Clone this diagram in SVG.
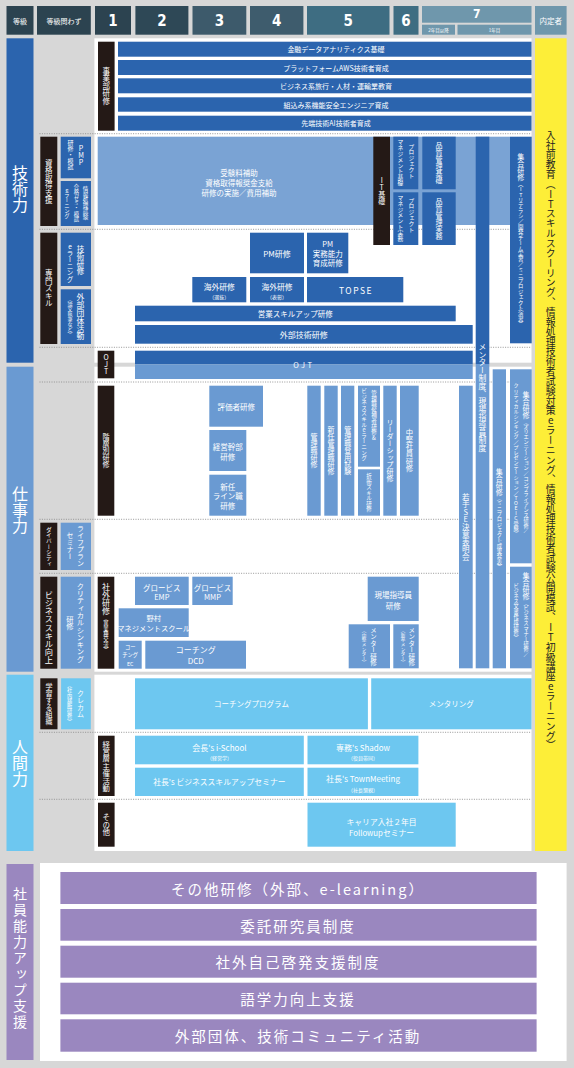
<svg xmlns="http://www.w3.org/2000/svg" width="574" height="1068" viewBox="0 0 574 1068">
<style>
text{font-family:"Noto Sans CJK JP","Noto Sans",sans-serif;fill:#fff;dominant-baseline:central;text-anchor:middle}
.v{writing-mode:vertical-rl;text-orientation:upright}
.s{text-anchor:start}
.k{fill:#222}
.db{fill:#2b64ae}
.lb{fill:#7aa3d4}
.wb{fill:#6a9ad2}
.hb{fill:#6dc7f0}
.bk{fill:#241916}
.pp{fill:#9a87bf}
.num{font-family:"DejaVu Sans Condensed","DejaVu Sans",sans-serif;font-weight:bold;font-stretch:condensed}
.dot{stroke:#8c8c8c;stroke-width:0.9;stroke-dasharray:1 1.4;fill:none}
.pt{font-size:14.5px;letter-spacing:2px}
</style>
<rect width="574" height="1068" fill="#d7d7d7"/>

<g id="header">
<rect x="6.5" y="6" width="27" height="28.7" fill="#2c4350"/>
<text x="20" y="20.5" font-size="7">等級</text>
<rect x="37" y="6" width="53.8" height="28.7" fill="#2c4350"/>
<text x="64" y="20.5" font-size="7">等級問わず</text>
<rect x="95" y="6" width="36" height="28.7" fill="#2c4350"/>
<text class="num" x="113" y="20.5" font-size="15">1</text>
<rect x="135.4" y="6" width="53" height="28.7" fill="#2e4856"/>
<text class="num" x="162" y="20.5" font-size="15">2</text>
<rect x="192.5" y="6" width="53.8" height="28.7" fill="#3d5a6b"/>
<text class="num" x="219.4" y="20.5" font-size="15">3</text>
<rect x="250" y="6" width="53.4" height="28.7" fill="#3e5c6d"/>
<text class="num" x="276.7" y="20.5" font-size="15">4</text>
<rect x="307" y="6" width="82.5" height="28.7" fill="#3e6d82"/>
<text class="num" x="348.2" y="20.5" font-size="15">5</text>
<rect x="393.5" y="6" width="25" height="28.7" fill="#3e6d82"/>
<text class="num" x="406" y="20.5" font-size="15">6</text>
<rect x="422" y="6" width="109.5" height="16.7" fill="#6f97ac"/>
<text class="num" x="476.7" y="14.3" font-size="12">7</text>
<rect x="422" y="24.7" width="33" height="10" fill="#6f97ac"/>
<text x="438.5" y="29.7" font-size="4.5">2年目以降</text>
<rect x="457.5" y="24.7" width="74" height="10" fill="#6f97ac"/>
<text x="494.5" y="29.7" font-size="4.5">1年目</text>
<rect x="535" y="6" width="31.6" height="28.7" fill="#6f97ac"/>
<text x="550.8" y="20.5" font-size="7.5">内定者</text>
</g>

<g id="panels">
<rect x="94.4" y="38.3" width="437.1" height="324.4" fill="#fff"/>
<rect x="94.4" y="366.7" width="437.1" height="305" fill="#fff"/>
<rect x="94.4" y="674.7" width="437.1" height="176.3" fill="#fff"/>
<rect x="40" y="863" width="526.6" height="198" fill="#fff"/>
</g>

<g id="separators">
<path class="dot" d="M39.5 133.7H531.5M39.5 229.3H531.5M39.5 347.3H531.5M39.5 382H531.5M39.5 519.3H531.5M39.5 573.3H531.5M39.5 732.3H531.5M39.5 799.3H531.5"/>
</g>

<g id="cat-gijutsu">
<rect class="db" x="6.5" y="38.3" width="27" height="324.4"/>
<text class="v" x="20" y="189" font-size="16">技術力</text>
</g>
<g id="cat-shigoto">
<rect class="wb" x="6.5" y="366.7" width="27" height="305"/>
<text class="v" x="20" y="510" font-size="16">仕事力</text>
</g>
<g id="cat-ningen">
<rect class="hb" x="6.5" y="674.7" width="27" height="176.3"/>
<text class="v" x="20" y="763" font-size="16">人間力</text>
</g>
<g id="cat-shien">
<rect class="pp" x="6.5" y="864" width="27" height="196"/>
<text class="v" x="20" y="959" font-size="14" letter-spacing="2">社員能力アップ支援</text>
</g>

<g id="yellow-preentry">
<rect x="535" y="38.3" width="31.6" height="812.7" fill="#fdee38"/>
<text class="v s k" x="550.8" y="130" font-size="9.85">入社前教育（ITスキルスクーリング、情報処理技術者試験対策eラーニング、情報処理技術者試験公開模試、IT初級講座eラーニング）</text>
</g>

<!-- 事業部研修 -->
<g id="jigyobu-label">
<rect class="bk" x="98" y="41.7" width="16.6" height="89"/>
<text class="v" x="106.3" y="86" font-size="7.5">事業部研修</text>
</g>
<g id="jb1"><rect class="db" x="118" y="41.7" width="413.5" height="15"/><text x="336" y="49.2" font-size="7">金融データアナリティクス基礎</text></g>
<g id="jb2"><rect class="db" x="118" y="60" width="413.5" height="15"/><text x="336" y="67.5" font-size="7">プラットフォームAWS技術者育成</text></g>
<g id="jb3"><rect class="db" x="118" y="78.3" width="413.5" height="15"/><text x="336" y="85.8" font-size="7">ビジネス系旅行・人材・運輸業教育</text></g>
<g id="jb4"><rect class="db" x="118" y="97.3" width="413.5" height="14.4"/><text x="336" y="104.5" font-size="7">組込み系機能安全エンジニア育成</text></g>
<g id="jb5"><rect class="db" x="118" y="115.7" width="413.5" height="15"/><text x="336" y="123.2" font-size="7">先端技術AI技術者育成</text></g>

<!-- 資格取得支援 -->
<g id="shikaku-label">
<rect class="bk" x="40.3" y="136.7" width="17" height="89.3"/>
<text class="v" x="48.8" y="181.5" font-size="7.5">資格取得支援</text>
</g>
<g id="pmp">
<rect class="db" x="60.7" y="136.7" width="30.3" height="41.6"/>
<text class="v" x="81" y="155" font-size="7">PMP</text>
<text class="v" x="70.5" y="155" font-size="6">研修・模試</text>
</g>
<g id="joho-shiken">
<rect class="db" x="60.7" y="181" width="30.3" height="45"/>
<text class="v" x="85.5" y="203" font-size="5.5">情報処理試験</text>
<text class="v" x="76.3" y="203" font-size="5.3">合格ゼミ・模試</text>
<text class="v" x="67" y="203" font-size="5.3">eラーニング</text>
</g>
<g id="shikaku-area">
<rect class="lb" x="97.7" y="136.7" width="412.3" height="88.3"/>
<text x="239" y="172.7" font-size="7.5">受験料補助</text>
<text x="239" y="182.7" font-size="7.5">資格取得報奨金支給</text>
<text x="239" y="192.7" font-size="7.5">研修の実施／費用補助</text>
</g>
<g id="it-kiso">
<rect class="bk" x="373.3" y="136.7" width="16.7" height="108.3"/>
<text class="v" x="381.7" y="191" font-size="7">IT基礎</text>
</g>
<g id="pm-kiso">
<rect class="db" x="393.3" y="136.7" width="25" height="52.6"/>
<text class="v" x="411.5" y="161" font-size="5.8">プロジェクト</text>
<text class="v" x="400.5" y="162.5" font-size="5.8">マネジメント基礎</text>
</g>
<g id="pm-jitsumu">
<rect class="db" x="393.3" y="192.3" width="25" height="52.7"/>
<text class="v" x="411.5" y="215" font-size="5.8">プロジェクト</text>
<text class="v" x="400.5" y="218" font-size="5.8">マネジメント実務</text>
</g>
<g id="hinshitsu-kiso">
<rect class="db" x="422.3" y="136.7" width="33.4" height="52.6"/>
<text class="v" x="439" y="163" font-size="7">品質管理基礎</text>
</g>
<g id="hinshitsu-jitsumu">
<rect class="db" x="422.3" y="192.3" width="33.4" height="52.7"/>
<text class="v" x="439" y="218.5" font-size="7">品質管理実務</text>
</g>
<g id="shugo-it">
<rect class="db" x="510" y="136.7" width="21.7" height="206.6"/>
<text class="v" x="520.8" y="240" font-size="7">集合研修<tspan font-size="5.4">（ITリテラシ／開発チーム実習／ミニプロジェクト演習）</tspan></text>
</g>
<g id="mentor-seido">
<rect class="db" x="475.7" y="136.7" width="13.6" height="227.3"/>
<rect class="wb" x="475.7" y="364" width="13.6" height="304.3"/>
<text class="v s" x="482.5" y="343" font-size="7.8">メンター制度、現場指導員制度</text>
</g>

<!-- 専門スキル -->
<g id="senmon-label">
<rect class="bk" x="40.3" y="232.7" width="17" height="111.3"/>
<text class="v" x="48.8" y="288.5" font-size="7.5">専門スキル</text>
</g>
<g id="gijutsu-kenshu">
<rect class="db" x="60.7" y="232.7" width="30.3" height="53.3"/>
<text class="v" x="80.5" y="260" font-size="7.5">技術研修</text>
<text class="v" x="70" y="263" font-size="6.5">eラーニング</text>
</g>
<g id="gaibu-dantai">
<rect class="db" x="60.7" y="289.3" width="30.3" height="54.7"/>
<text class="v" x="80.5" y="317" font-size="7.8">外部団体活動</text>
<text class="v" x="70" y="316.5" font-size="5">（論文執筆など）</text>
</g>
<g id="pm-kenshu">
<rect class="db" x="250" y="232.7" width="54" height="40.6"/>
<text x="277" y="253" font-size="8">PM研修</text>
</g>
<g id="pm-jitsumu-noryoku">
<rect class="db" x="307" y="232.7" width="41.3" height="40.6"/>
<text x="327.7" y="243.5" font-size="7.5">PM</text>
<text x="327.7" y="253.2" font-size="7.5">実務能力</text>
<text x="327.7" y="262.7" font-size="7.5">育成研修</text>
</g>
<g id="kaigai-senbatsu">
<rect class="db" x="192.3" y="277" width="54" height="25.3"/>
<text x="219.3" y="286" font-size="7.8">海外研修</text>
<text x="219.3" y="296" font-size="5">（選抜）</text>
</g>
<g id="kaigai-hyosho">
<rect class="db" x="250" y="277" width="54" height="25.3"/>
<text x="277" y="286" font-size="7.8">海外研修</text>
<text x="277" y="296" font-size="5">（表彰）</text>
</g>
<g id="topse">
<rect class="db" x="307" y="277" width="96.3" height="25.3"/>
<text x="356" y="289.7" font-size="8.5" letter-spacing="1.5">TOPSE</text>
</g>
<g id="eigyo-skill">
<rect class="db" x="135" y="305.7" width="320.7" height="15.6"/>
<text x="295.3" y="313.5" font-size="7.5">営業スキルアップ研修</text>
</g>
<g id="gaibu-gijutsu">
<rect class="db" x="135" y="325" width="337.7" height="18.7"/>
<text x="303.8" y="334.4" font-size="8">外部技術研修</text>
</g>

<!-- OJT -->
<g id="ojt-label">
<rect class="bk" x="97.7" y="350.7" width="16.6" height="27.6"/>
<text class="v" x="106" y="364.5" font-size="7">OJT</text>
</g>
<g id="ojt">
<rect class="db" x="135" y="350.7" width="337.7" height="13.6"/>
<rect class="wb" x="135" y="364.3" width="337.7" height="14.7"/>
<text x="303.8" y="364.8" font-size="7.5" letter-spacing="2.5">OJT</text>
</g>

<!-- 階層別研修 -->
<g id="kaiso-label">
<rect class="bk" x="97.7" y="385.7" width="16.6" height="130"/>
<text class="v" x="106" y="450" font-size="7">階層別研修</text>
</g>
<g id="hyokasha">
<rect class="wb" x="209.3" y="385.7" width="53.7" height="41"/>
<text x="236.2" y="406.2" font-size="7.5">評価者研修</text>
</g>
<g id="keiei-kanbu">
<rect class="wb" x="209.3" y="430" width="37" height="41"/>
<text x="227.8" y="446.3" font-size="7.5">経営幹部</text>
<text x="227.8" y="456.5" font-size="7.5">研修</text>
</g>
<g id="shinnin-line">
<rect class="wb" x="209.3" y="474.7" width="37" height="41"/>
<text x="227.8" y="486" font-size="7.5">新任</text>
<text x="227.8" y="495.7" font-size="7.5">ライン職</text>
<text x="227.8" y="505.7" font-size="7.5">研修</text>
</g>
<g id="kanrishoku">
<rect class="wb" x="307.3" y="385.7" width="13.4" height="130"/>
<text class="v" x="314" y="450" font-size="7">管理職研修</text>
</g>
<g id="shinnin-kanri">
<rect class="wb" x="324.3" y="385.7" width="13.4" height="130"/>
<text class="v" x="331" y="450.5" font-size="7">新任管理職研修</text>
</g>
<g id="kanri-toyo">
<rect class="wb" x="341" y="385.7" width="13.3" height="130"/>
<text class="v" x="347.7" y="450" font-size="7">管理職登用試験</text>
</g>
<g id="kanri-kohosha">
<rect class="wb" x="358" y="385.7" width="22" height="81"/>
<text class="v s" x="374" y="390" font-size="5.6">管理職候補者研修&amp;</text>
<text class="v s" x="364" y="388" font-size="5.6">ビジネススキルeラーニング</text>
</g>
<g id="sessho">
<rect class="wb" x="358" y="469.3" width="22" height="46.4"/>
<text class="v" x="369" y="492.5" font-size="5.5">折衝スキル研修</text>
</g>
<g id="leadership">
<rect class="wb" x="383.3" y="385.7" width="13.4" height="130"/>
<text class="v" x="390" y="450" font-size="7">リーダーシップ研修</text>
</g>
<g id="chuken">
<rect class="wb" x="400" y="385.7" width="18.7" height="130"/>
<text class="v" x="409.3" y="450" font-size="7.3">中堅社員研修</text>
</g>
<g id="wakate-se">
<rect class="wb" x="459" y="385.7" width="13.7" height="282.6"/>
<text class="v" x="465.8" y="527" font-size="7.5">若手SE決意表明会</text>
</g>
<g id="shugo-mini">
<rect class="wb" x="492.7" y="369.3" width="13.3" height="299"/>
<text class="v" x="499.3" y="518.5" font-size="7">集合研修<tspan font-size="5.3">（ミニプロジェクト成果発表）</tspan></text>
</g>
<g id="shugo-orientation">
<rect class="wb" x="510" y="369.3" width="21.7" height="194"/>
<text class="v s" x="526" y="391" font-size="7">集合研修<tspan font-size="5.2">（オリエンテーション／コンプライアンス研修／</tspan></text>
<text class="v s" x="516" y="383" font-size="5.1">クリティカルシンキング／プレゼンテーション／TOEIC受験）</text>
</g>
<g id="shugo-manner">
<rect class="wb" x="510" y="566.7" width="21.7" height="101.6"/>
<text class="v s" x="526" y="572" font-size="7">集合研修<tspan font-size="5.2">（ビジネスマナー研修／</tspan></text>
<text class="v s" x="516" y="583" font-size="5.2">ビジネス文書作成研修）</text>
</g>

<!-- ダイバーシティ -->
<g id="diversity-label">
<rect class="bk" x="40.3" y="522.7" width="17" height="47.3"/>
<text class="v" x="48.8" y="546.5" font-size="5.7">ダイバーシティ</text>
</g>
<g id="lifeplan">
<rect class="wb" x="60.7" y="522.7" width="30.3" height="47.3"/>
<text class="v" x="80.5" y="546" font-size="7">ライフプラン</text>
<text class="v" x="70" y="546" font-size="7">セミナー</text>
</g>

<!-- ビジネススキル向上 -->
<g id="bizskill-label">
<rect class="bk" x="40.3" y="576.7" width="17" height="92"/>
<text class="v" x="48.8" y="627.5" font-size="8.2">ビジネススキル向上</text>
</g>
<g id="critical">
<rect class="wb" x="60.7" y="576.7" width="30.3" height="92"/>
<text class="v" x="80.5" y="622.5" font-size="7.3">クリティカルシンキング</text>
<text class="v" x="70" y="623" font-size="7.3">研修</text>
</g>
<g id="shagai-label">
<rect class="bk" x="97.7" y="576.7" width="16.6" height="92"/>
<text class="v" x="106" y="618" font-size="8">社外研修<tspan font-size="5.3">（異業種交流）</tspan></text>
</g>
<g id="globis-emp">
<rect class="wb" x="135" y="576.7" width="53.7" height="28.3"/>
<text x="161.8" y="587" font-size="7.5">グロービス</text>
<text x="161.8" y="596.5" font-size="7.5">EMP</text>
</g>
<g id="globis-mmp">
<rect class="wb" x="192.3" y="576.7" width="40.4" height="28.3"/>
<text x="212.5" y="587" font-size="7.5">グロービス</text>
<text x="212.5" y="596.5" font-size="7.5">MMP</text>
</g>
<g id="nomura">
<rect class="wb" x="118.7" y="608.3" width="70" height="28.7"/>
<text x="153.7" y="617.7" font-size="7.3">野村</text>
<text x="153.7" y="627.7" font-size="7.3">マネジメントスクール</text>
</g>
<g id="coaching-ec">
<rect class="wb" x="118.7" y="640.7" width="23" height="28"/>
<text x="130.2" y="647" font-size="5.3">コー</text>
<text x="130.2" y="655.3" font-size="5.3">チング</text>
<text x="130.2" y="663.5" font-size="5.3">EC</text>
</g>
<g id="coaching-dcd">
<rect class="wb" x="145.3" y="640.7" width="100.7" height="28"/>
<text x="195.7" y="649.7" font-size="8">コーチング</text>
<text x="195.7" y="660" font-size="8">DCD</text>
</g>
<g id="genba-shido">
<rect class="wb" x="367.7" y="576.7" width="51" height="44.3"/>
<text x="393.2" y="594.5" font-size="7.5">現場指導員</text>
<text x="393.2" y="605.5" font-size="7.5">研修</text>
</g>
<g id="mentor-chuken">
<rect class="wb" x="348.7" y="624.3" width="41.3" height="44"/>
<text class="v" x="373.5" y="646.5" font-size="6.5">メンター研修</text>
<text class="v" x="364" y="646.5" font-size="4.6">（中堅メンター）</text>
</g>
<g id="mentor-shinsotsu">
<rect class="wb" x="393.3" y="624.3" width="25.4" height="44"/>
<text class="v" x="411.7" y="646.5" font-size="6.5">メンター研修</text>
<text class="v" x="403" y="646.5" font-size="4.6">（新卒メンター）</text>
</g>

<!-- 人間力 -->
<g id="gakushu-label">
<rect class="bk" x="40.3" y="678.3" width="17.2" height="51"/>
<text class="v" x="48.9" y="704" font-size="7">学習する組織</text>
</g>
<g id="crecam">
<rect class="hb" x="61.1" y="678.3" width="29.7" height="51"/>
<text class="v" x="80.5" y="704" font-size="7">クレカム</text>
<text class="v" x="69.5" y="703.5" font-size="5.2">（社内横断研修）</text>
</g>
<g id="coaching-program">
<rect class="hb" x="135" y="678.3" width="232.9" height="51"/>
<text x="251.5" y="703.8" font-size="7.5">コーチングプログラム</text>
</g>
<g id="mentoring">
<rect class="hb" x="371.2" y="678.3" width="160.3" height="51"/>
<text x="451.3" y="703.8" font-size="7.5">メンタリング</text>
</g>
<g id="keieiso-label">
<rect class="bk" x="98" y="735.7" width="16.6" height="60.3"/>
<text class="v" x="106.3" y="766" font-size="7.4">経営層主催活動</text>
</g>
<g id="ischool">
<rect class="hb" x="135" y="735.7" width="168.8" height="28.6"/>
<text x="219.4" y="747.5" font-size="8">会長's i-School</text>
<text x="219.4" y="757.7" font-size="5">（経営学）</text>
</g>
<g id="shadow">
<rect class="hb" x="307.5" y="735.7" width="110.9" height="28.6"/>
<text x="363" y="747.5" font-size="8">専務's Shadow</text>
<text x="363" y="757.7" font-size="5">（役員帯同）</text>
</g>
<g id="bizskill-seminar">
<rect class="hb" x="135" y="767.7" width="168.8" height="28.3"/>
<text x="219.4" y="781.8" font-size="7.8">社長's ビジネススキルアップセミナー</text>
</g>
<g id="townmeeting">
<rect class="hb" x="307.5" y="767.7" width="110.9" height="28.3"/>
<text x="363" y="778.8" font-size="8">社長's TownMeeting</text>
<text x="363" y="789.5" font-size="5">（社長懇親）</text>
</g>
<g id="sonota-label">
<rect class="bk" x="98" y="802.7" width="16.6" height="44"/>
<text class="v" x="106.3" y="825" font-size="7.5">その他</text>
</g>
<g id="career-followup">
<rect class="hb" x="307.5" y="802.7" width="148.2" height="44"/>
<text x="381.6" y="821.5" font-size="7.8">キャリア入社２年目</text>
<text x="381.6" y="832" font-size="7.8">Followupセミナー</text>
</g>

<!-- 社員能力アップ支援 -->
<g id="p1"><rect class="pp" x="60.4" y="872" width="476.2" height="32"/><text class="pt" x="298" y="888">その他研修（外部、e-learning）</text></g>
<g id="p2"><rect class="pp" x="60.4" y="909" width="476.2" height="31.7"/><text class="pt" x="298" y="925">委託研究員制度</text></g>
<g id="p3"><rect class="pp" x="60.4" y="945.7" width="476.2" height="32"/><text class="pt" x="298" y="961.7">社外自己啓発支援制度</text></g>
<g id="p4"><rect class="pp" x="60.4" y="982.7" width="476.2" height="31.6"/><text class="pt" x="298" y="998.5">語学力向上支援</text></g>
<g id="p5"><rect class="pp" x="60.4" y="1019.3" width="476.2" height="32.4"/><text class="pt" x="298" y="1035.5">外部団体、技術コミュニティ活動</text></g>
</svg>
